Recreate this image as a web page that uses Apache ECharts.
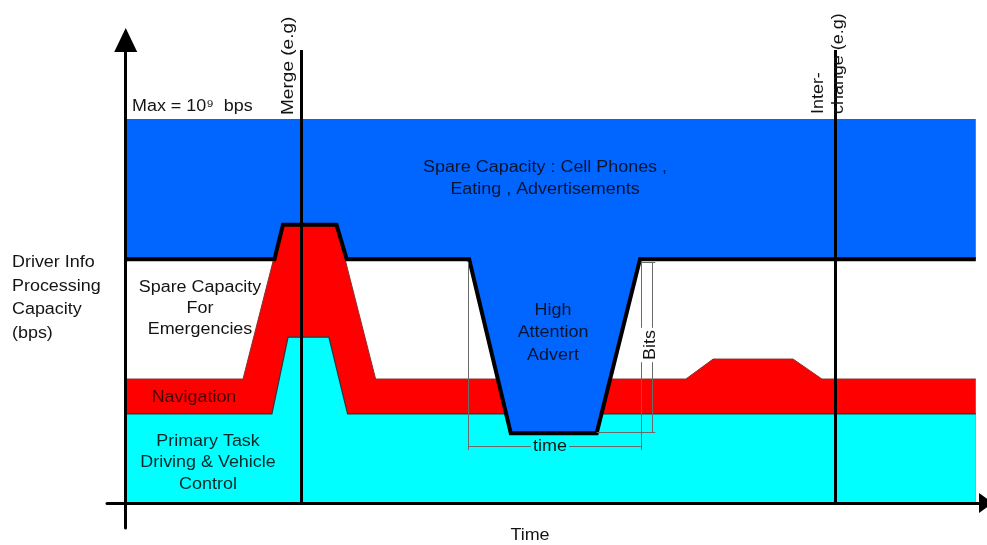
<!DOCTYPE html>
<html>
<head>
<meta charset="utf-8">
<script src="https://cdn.jsdelivr.net/npm/echarts@6/dist/echarts.min.js"></script>
<style>
  html, body { margin: 0; padding: 0; background: #fff; }
  #main { width: 987px; height: 545px; }
</style>
</head>
<body>
<div id="main"></div>
<script>
// time positions (0..100) and capacity levels (0..100 = max)
const taskT = [0, 17.2, 19.1, 23.9, 26.1, 100];
const taskV = [23.2, 23.2, 43.2, 43.2, 23.2, 23.2];

const navT = [0, 13.8, 18.4, 24.8, 29.4, 65.9, 69.1, 78.5, 81.9, 100];
const navV = [32.3, 32.3, 72.2, 72.2, 32.3, 32.3, 37.5, 37.5, 32.3, 32.3];

const spareT = [0, 17.5, 18.5, 24.8, 26.0, 40.4, 45.3, 55.4, 60.5, 100];
const spareV = [63.5, 63.5, 72.5, 72.5, 63.5, 63.5, 18.2, 18.2, 63.5, 63.5];

const maxLevel = 100;
const eventT = { merge: 20.7, interchange: 83.5 };
const eventTop = 118;

// "Bits" / "time" dimension marks around the advert dip
const dimTime = { from: 40.3, to: 60.6, at: 14.8, extTop: 62.8, extBottom: 13.8 };
const dimBits = { at: 61.9, from: 18.5, to: 62.8 };

const zip = (t, v) => t.map((x, i) => [x, v[i]]);

const myChart = echarts.init(document.querySelector('#main'));

const txt = (x, y, text, extra, rotation) => ({
    type: 'text', x: x, y: y, z: 20, rotation: rotation || 0, scaleX: 1.12,
    style: Object.assign({
        text: text, fill: '#141414', font: '16px "Liberation Sans", Arial, sans-serif',
        align: 'center', verticalAlign: 'middle', lineHeight: 22
    }, extra || {})
});

const thin = { color: '#6a6a6a', width: 1, type: 'solid' };

const option = {
    animation: false,
    grid: { left: 107, right: 1, top: 40, bottom: 17, show: false, outerBoundsMode: 'none', containLabel: false },
    xAxis: {
        type: 'value', min: -2.2, max: 101.2, z: 10,
        splitLine: { show: false }, axisLabel: { show: false }, axisTick: { show: false },
        axisLine: { onZero: true, symbol: ['none', 'triangle'], symbolSize: [20, 14],
            lineStyle: { color: '#000', width: 3 } }
    },
    yAxis: {
        type: 'value', min: -6.5, max: 120.6, z: 10,
        splitLine: { show: false }, axisLabel: { show: false }, axisTick: { show: false },
        axisLine: { onZero: true, symbol: ['none', 'triangle'], symbolSize: [23, 24],
            lineStyle: { color: '#000', width: 3 } }
    },
    series: [{
        name: 'Navigation',
        type: 'line',
        z: 1,
        data: zip(navT, navV),
        showSymbol: false, symbol: 'none',
        lineStyle: { color: '#8a3030', width: 1, join: 'miter' },
        areaStyle: { color: '#ff0000', opacity: 1 }
    }, {
        name: 'Primary Task',
        type: 'line',
        z: 1,
        data: zip(taskT, taskV),
        showSymbol: false, symbol: 'none',
        lineStyle: { color: '#2a3a3a', width: 1.2, join: 'miter' },
        areaStyle: { color: '#00ffff', opacity: 1 }
    }, {
        name: 'Spare Capacity',
        type: 'line',
        z: 4,
        data: zip(spareT, spareV),
        showSymbol: false, symbol: 'none',
        lineStyle: { color: '#000', width: 4, join: 'miter' },
        areaStyle: { color: '#0066ff', opacity: 1, origin: maxLevel },
        markLine: {
            silent: true, symbol: ['none', 'none'], label: { show: false },
            lineStyle: thin,
            data: [
                [{ coord: [eventT.merge, 0], lineStyle: { color: '#000', width: 3, type: 'solid' } }, { coord: [eventT.merge, eventTop] }],
                [{ coord: [eventT.interchange, 0], lineStyle: { color: '#000', width: 3, type: 'solid' } }, { coord: [eventT.interchange, eventTop] }],
                [{ coord: [dimTime.from, dimTime.at] }, { coord: [dimTime.to, dimTime.at] }],
                [{ coord: [dimTime.from, dimTime.extTop] }, { coord: [dimTime.from, dimTime.extBottom] }],
                [{ coord: [dimTime.to, dimTime.extTop] }, { coord: [dimTime.to, dimTime.extBottom] }],
                [{ coord: [dimBits.at, dimBits.from] }, { coord: [dimBits.at, dimBits.to] }],
                [{ coord: [dimTime.to, dimBits.to] }, { coord: [dimBits.at + 0.4, dimBits.to] }],
                [{ coord: [55.4, dimBits.from] }, { coord: [dimBits.at + 0.4, dimBits.from] }]
            ]
        }
    }],
    graphic: [
        txt(12, 298, 'Driver Info\nProcessing\nCapacity\n(bps)', { align: 'left', lineHeight: 23.5 }),
        txt(132, 107, 'Max = 10⁹  bps', { align: 'left' }),
        txt(545, 179, 'Spare Capacity : Cell Phones ,\nEating , Advertisements', { fill: '#0a1430', lineHeight: 22 }),
        txt(200, 309, 'Spare Capacity\nFor\nEmergencies', { lineHeight: 21 }),
        txt(194, 398, 'Navigation', { fill: '#4a0000' }),
        txt(208, 463, 'Primary Task\nDriving & Vehicle\nControl', { fill: '#062a2a', lineHeight: 21.5 }),
        txt(553, 333, 'High\nAttention\nAdvert', { fill: '#0a1430', lineHeight: 22.5 }),
        txt(550, 447, 'time', { backgroundColor: '#00ffff', padding: [0, 2] }),
        txt(651, 345, 'Bits', { backgroundColor: '#fff', padding: [0, 2] }, Math.PI / 2),
        txt(530, 536, 'Time'),
        txt(288, 115, 'Merge (e.g)', { align: 'left', font: '17px "Liberation Sans", Arial, sans-serif' }, Math.PI / 2),
        txt(829, 114, 'Inter-\nchange (e.g)', { align: 'left', lineHeight: 20 }, Math.PI / 2)
    ]
};

myChart.setOption(option, true);
</script>
</body>
</html>
